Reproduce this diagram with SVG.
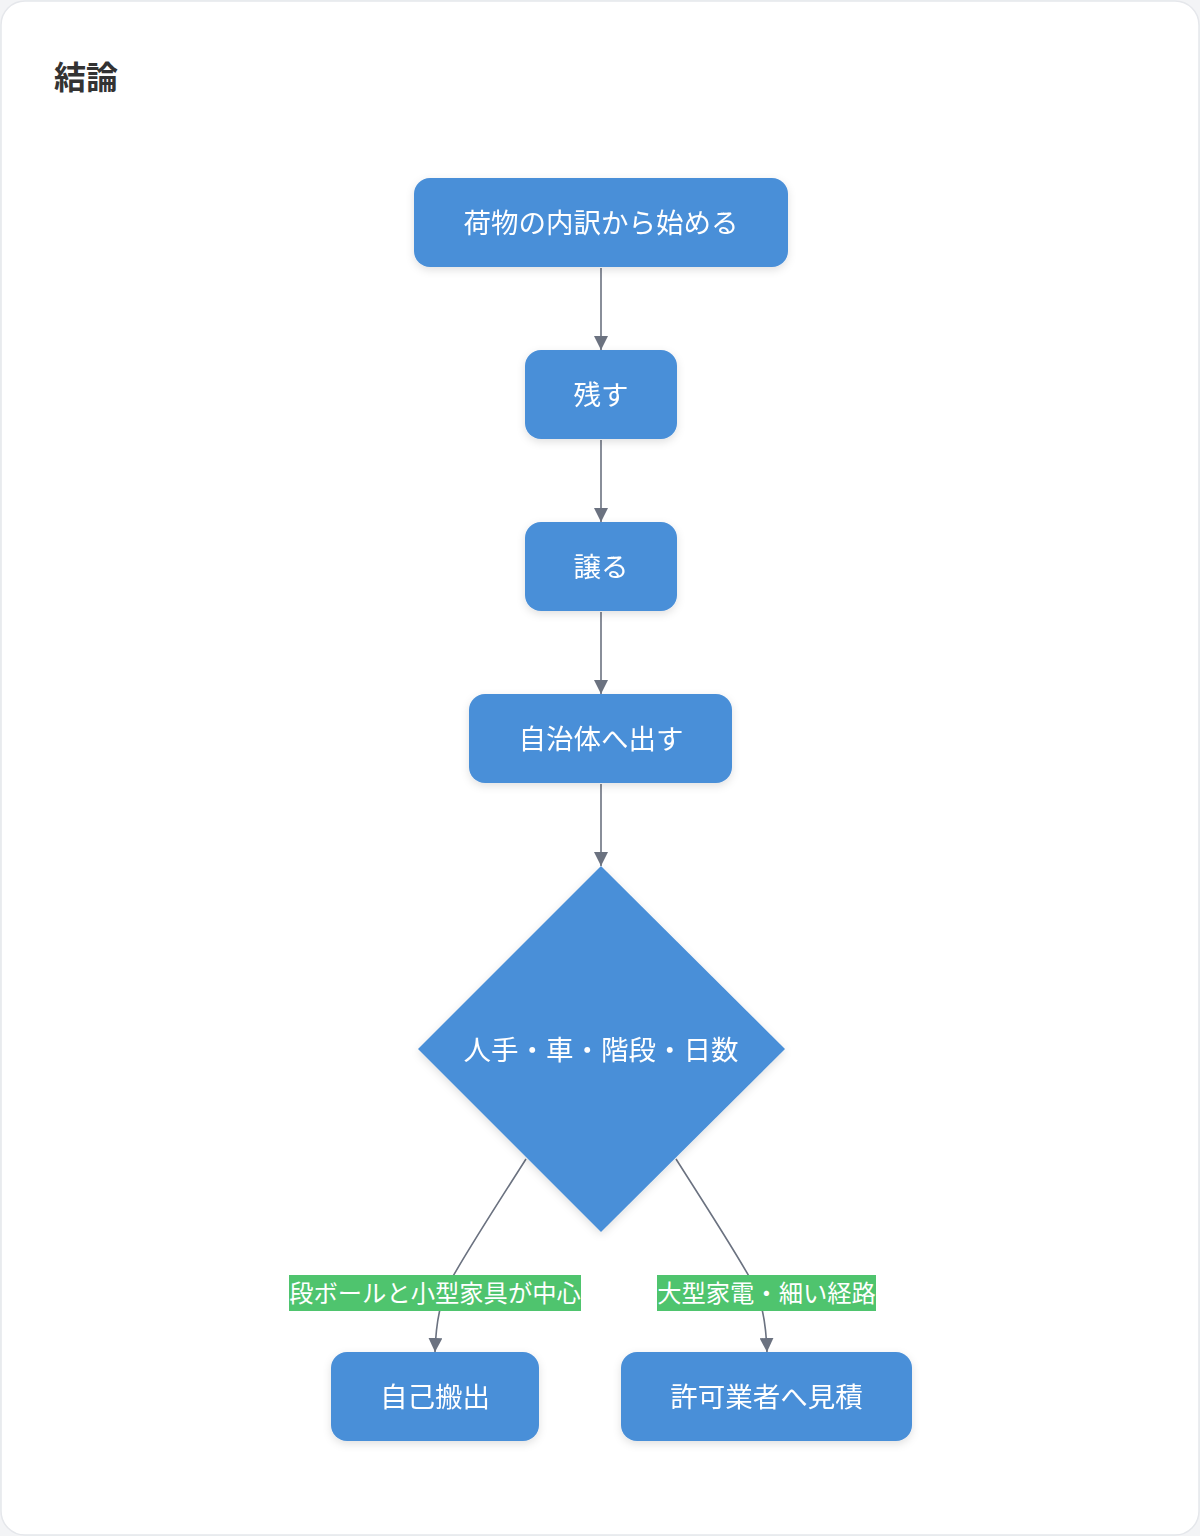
<svg xmlns="http://www.w3.org/2000/svg" width="1200" height="1536" viewBox="0 0 1200 1536">
<style>
.node{fill:#4a8fd8;}
.nt{fill:#ffffff;font-family:"Noto Sans CJK JP","Noto Sans",sans-serif;font-size:27.5px;text-anchor:middle;dominant-baseline:central;}
.edge{fill:none;stroke:#6b7280;stroke-width:1.6;}
.lbl{fill:#4fc46e;}
.lt{fill:#ffffff;font-family:"Noto Sans CJK JP","Noto Sans",sans-serif;font-size:24.3px;text-anchor:middle;dominant-baseline:central;}
.title{fill:#333333;font-family:"Noto Sans CJK JP","Noto Sans",sans-serif;font-size:32px;font-weight:bold;}
</style>
<defs>
<marker id="arr" markerUnits="userSpaceOnUse" markerWidth="14" markerHeight="14" viewBox="0 0 10 10" refX="10" refY="5" orient="auto">
<path d="M0,0 L10,5 L0,10 z" fill="#6b7280"/>
</marker>
<filter id="sh" x="-20%" y="-30%" width="140%" height="170%">
<feDropShadow dx="0" dy="3" stdDeviation="4" flood-color="#000" flood-opacity="0.12"/>
</filter>
</defs>
<rect x="0" y="0" width="1200" height="1536" fill="#f3f4f6"/>
<rect x="1" y="1" width="1198" height="1534" rx="24" fill="#ffffff" stroke="#e5e7eb" stroke-width="1.5"/>
<text class="title" x="54" y="89">結論</text>
<g id="connectors">
<path class="edge" d="M601,268 L601,350" marker-end="url(#arr)"/>
<path class="edge" d="M601,440 L601,522" marker-end="url(#arr)"/>
<path class="edge" d="M601,612 L601,694" marker-end="url(#arr)"/>
<path class="edge" d="M601,784 L601,866" marker-end="url(#arr)"/>
<path class="edge" d="M526,1159 C500,1200 472,1243 452,1278 C440,1300 436,1322 435,1352" marker-end="url(#arr)"/>
<path class="edge" d="M676,1159 C702,1200 730,1243 750,1278 C762,1300 766,1322 767,1352" marker-end="url(#arr)"/>
<g id="label-left">
<rect class="lbl" x="289" y="1275" width="292" height="36"/>
<text class="lt" x="435" y="1291">段ボールと小型家具が中心</text>
</g>
<g id="label-right">
<rect class="lbl" x="657" y="1275" width="219" height="36"/>
<text class="lt" x="766.5" y="1291">大型家電・細い経路</text>
</g>
</g>
<g id="n1" filter="url(#sh)">
<rect class="node" x="414" y="178" width="374" height="89" rx="16"/>
<text class="nt" x="601" y="221">荷物の内訳から始める</text>
</g>
<g id="n2" filter="url(#sh)">
<rect class="node" x="525" y="350" width="152" height="89" rx="16"/>
<text class="nt" x="601" y="393">残す</text>
</g>
<g id="n3" filter="url(#sh)">
<rect class="node" x="525" y="522" width="152" height="89" rx="16"/>
<text class="nt" x="601" y="565">譲る</text>
</g>
<g id="n4" filter="url(#sh)">
<rect class="node" x="469" y="694" width="263" height="89" rx="16"/>
<text class="nt" x="601" y="737">自治体へ出す</text>
</g>
<g id="d1" filter="url(#sh)">
<polygon class="node" points="601,866 785,1049 601,1232 418,1049"/>
<text class="nt" x="601" y="1048">人手・車・階段・日数</text>
</g>
<g id="n5" filter="url(#sh)">
<rect class="node" x="331" y="1352" width="208" height="89" rx="16"/>
<text class="nt" x="435" y="1395">自己搬出</text>
</g>
<g id="n6" filter="url(#sh)">
<rect class="node" x="621" y="1352" width="291" height="89" rx="16"/>
<text class="nt" x="766.5" y="1395">許可業者へ見積</text>
</g>
</svg>
